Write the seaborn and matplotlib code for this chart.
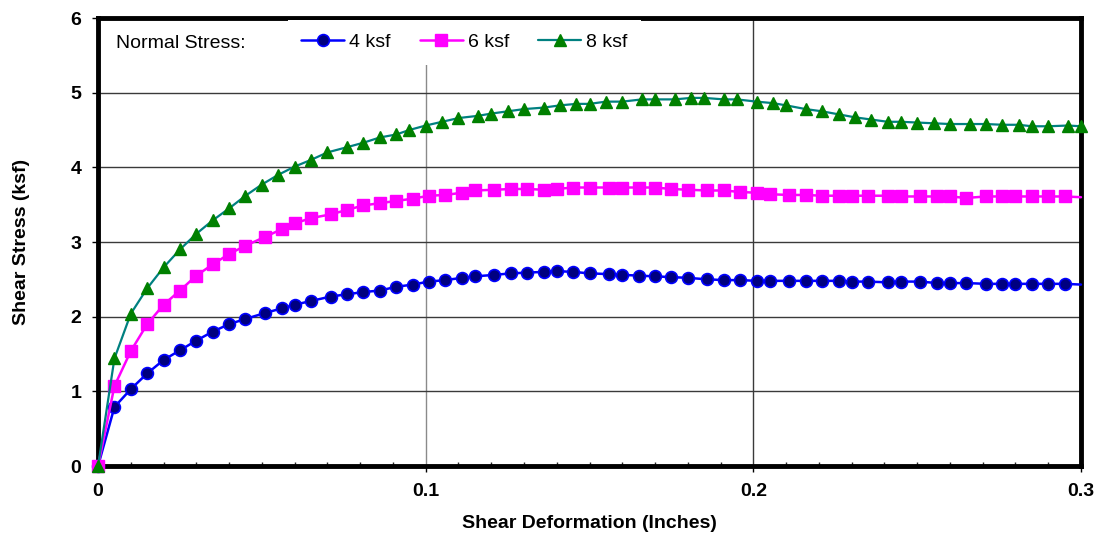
import pandas as pd
import seaborn as sns
import matplotlib.pyplot as plt
from matplotlib.ticker import MultipleLocator


# shear deformation (in) for the 4 and 6 ksf tests, last value sits on the axis edge (no marker)
x_46 = [0.000, 0.005, 0.010, 0.015, 0.020, 0.025, 0.030, 0.035, 0.040, 0.045,
        0.051, 0.056, 0.060, 0.065, 0.071, 0.076, 0.081, 0.086, 0.091, 0.096,
        0.101, 0.106, 0.111, 0.115, 0.121, 0.126, 0.131, 0.136, 0.140, 0.145,
        0.150, 0.156, 0.160, 0.165, 0.170, 0.175, 0.180, 0.186, 0.191, 0.196,
        0.201, 0.205, 0.211, 0.216, 0.221, 0.226, 0.230, 0.235, 0.241, 0.245,
        0.251, 0.256, 0.260, 0.265, 0.271, 0.276, 0.280, 0.285, 0.290, 0.295, 0.300]

stress_4 = [0, 0.79, 1.03, 1.24, 1.42, 1.55, 1.68, 1.80, 1.90, 1.97,
            2.05, 2.11, 2.16, 2.21, 2.27, 2.30, 2.33, 2.35, 2.40, 2.43,
            2.47, 2.49, 2.52, 2.54, 2.56, 2.58, 2.59, 2.60, 2.61, 2.60,
            2.58, 2.57, 2.56, 2.55, 2.54, 2.53, 2.52, 2.50, 2.49, 2.49,
            2.48, 2.48, 2.48, 2.48, 2.48, 2.48, 2.47, 2.47, 2.46, 2.47,
            2.47, 2.45, 2.45, 2.45, 2.44, 2.44, 2.44, 2.44, 2.44, 2.44, 2.43]

stress_6 = [0, 1.07, 1.54, 1.90, 2.16, 2.35, 2.55, 2.70, 2.84, 2.95,
            3.07, 3.17, 3.25, 3.32, 3.37, 3.43, 3.49, 3.52, 3.55, 3.58,
            3.62, 3.63, 3.66, 3.69, 3.70, 3.71, 3.71, 3.70, 3.71, 3.73,
            3.73, 3.73, 3.73, 3.73, 3.73, 3.71, 3.70, 3.69, 3.69, 3.67,
            3.66, 3.64, 3.63, 3.63, 3.62, 3.62, 3.62, 3.62, 3.62, 3.61,
            3.61, 3.61, 3.61, 3.59, 3.61, 3.61, 3.61, 3.61, 3.61, 3.61, 3.60]

x_8 = [0.000, 0.005, 0.010, 0.015, 0.020, 0.025, 0.030, 0.035, 0.040, 0.045,
       0.050, 0.055, 0.060, 0.065, 0.070, 0.076, 0.081, 0.086, 0.091, 0.095,
       0.100, 0.105, 0.110, 0.116, 0.120, 0.125, 0.130, 0.136, 0.141, 0.146,
       0.150, 0.155, 0.160, 0.166, 0.170, 0.176, 0.181, 0.185, 0.191, 0.195,
       0.201, 0.206, 0.210, 0.216, 0.221, 0.226, 0.231, 0.236, 0.241, 0.245,
       0.250, 0.255, 0.260, 0.266, 0.271, 0.276, 0.281, 0.285, 0.290, 0.296, 0.300]

stress_8 = [0, 1.44, 2.04, 2.38, 2.66, 2.90, 3.11, 3.29, 3.45, 3.62,
            3.77, 3.90, 4.01, 4.10, 4.20, 4.27, 4.33, 4.40, 4.44, 4.50,
            4.56, 4.61, 4.66, 4.69, 4.72, 4.75, 4.78, 4.80, 4.83, 4.85,
            4.85, 4.88, 4.88, 4.91, 4.91, 4.91, 4.93, 4.93, 4.91, 4.91,
            4.88, 4.86, 4.83, 4.78, 4.75, 4.71, 4.67, 4.64, 4.61, 4.61,
            4.60, 4.59, 4.58, 4.58, 4.58, 4.57, 4.57, 4.55, 4.55, 4.56, 4.55]

x_ticks = [0, 0.1, 0.2, 0.3]
x_tick_labels = ["0", "0.1", "0.2", "0.3"]
y_ticks = [0, 1, 2, 3, 4, 5, 6]

series = [
    ("4 ksf", x_46, stress_4, dict(color="#0000FF", marker="o", markerfacecolor="#000080",
                                   markeredgecolor="#0000FF", markersize=8.5, markeredgewidth=1.2,
                                   linewidth=1.8), True),
    ("6 ksf", x_46, stress_6, dict(color="#FF00FF", marker="s", markerfacecolor="#FF00FF",
                                   markeredgecolor="#FF00FF", markersize=8.5, markeredgewidth=1.0,
                                   linewidth=1.8), True),
    ("8 ksf", x_8, stress_8, dict(color="#008080", marker="^", markerfacecolor="#008000",
                                  markeredgecolor="#008000", markersize=9, markeredgewidth=1.0,
                                  linewidth=1.6), False),
]

FS = 14

sns.set_style("white")
plt.rcParams['font.family'] = ['Liberation Sans', 'DejaVu Sans']
plt.rcParams['text.color'] = 'black'
plt.rcParams['axes.labelcolor'] = 'black'

fig, ax = plt.subplots(figsize=(10.98, 5.39), dpi=100)
fig.subplots_adjust(left=0.0893, right=0.9845, bottom=0.1354, top=0.9666)

for name, xs, ys, style, edge_pt in series:
    df = pd.DataFrame({"deformation": xs, "stress": ys})
    # the last reading of 4/6 ksf is only the line running into the frame
    every = list(range(len(xs) - 1)) if edge_pt else None
    sns.lineplot(data=df, x="deformation", y="stress", ax=ax, label=name,
                 estimator=None, sort=False, clip_on=False, markevery=every,
                 zorder=4, **style)

ax.set_xlim(0, 0.3)
ax.set_ylim(0, 6)
ax.set_xticks(x_ticks)
ax.set_xticklabels(x_tick_labels)
ax.set_yticks(y_ticks)
ax.xaxis.set_minor_locator(MultipleLocator(0.01))

ax.tick_params(axis="both", which="major", direction="out", length=4, width=1,
               pad=8, labelsize=FS, bottom=True, left=True, colors="black")
ax.tick_params(axis="x", which="minor", direction="in", length=3, width=1, bottom=True)
for lab in ax.get_xticklabels() + ax.get_yticklabels():
    lab.set_fontweight("bold")

ax.set_axisbelow(True)
ax.grid(True, which="major", color="#3a3a3a", linewidth=1)
ax.get_xgridlines()[1].set_color("#8a8a8a")

for s in ax.spines.values():
    s.set_visible(True)
    s.set_color("black")
    s.set_linewidth(3.5)

ax.set_xlabel("Shear Deformation (Inches)", fontsize=FS, fontweight="bold", color="black")
ax.set_ylabel("Shear Stress (ksf)", fontsize=FS, fontweight="bold", color="black")
ax.xaxis.set_label_coords(0.5, -0.11)
ax.yaxis.set_label_coords(-0.069, 0.5)

ax.text(0.018, 0.942, "Normal Stress:", transform=ax.transAxes, va="center",
        fontsize=FS, color="black", zorder=6)
ax.legend(ncol=3, loc="upper left", bbox_to_anchor=(0.193, 0.996), borderaxespad=0,
          frameon=True, fancybox=False, facecolor="white", edgecolor="none", framealpha=1,
          handlelength=2.2, handletextpad=0.26, columnspacing=1.5, borderpad=0.7,
          fontsize=FS, labelcolor="black")

plt.savefig("out.png", dpi=100)
